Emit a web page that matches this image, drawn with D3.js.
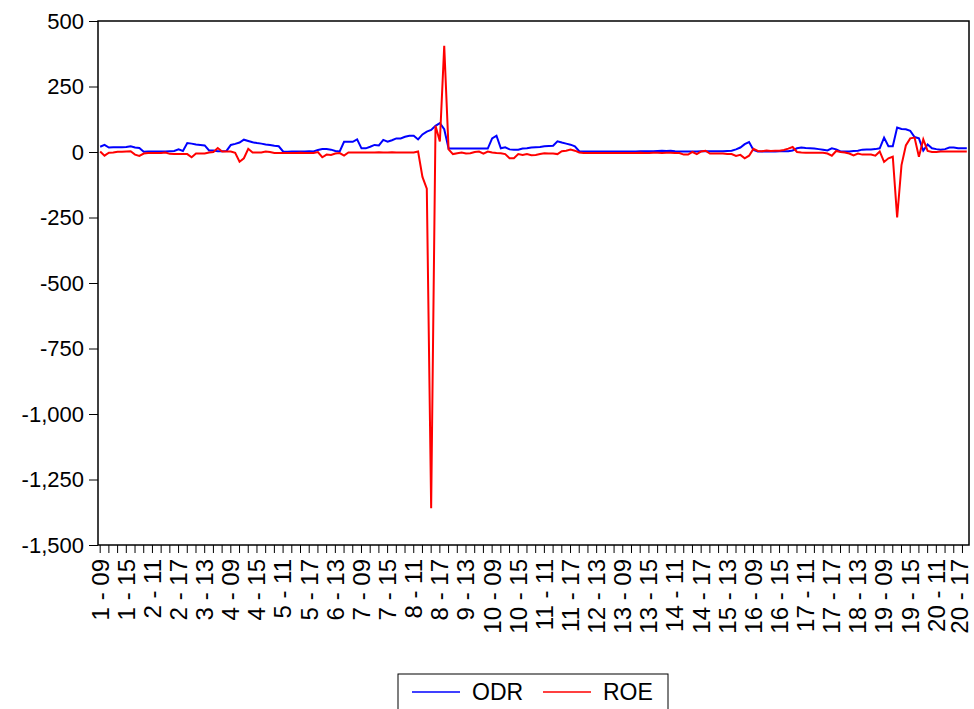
<!DOCTYPE html>
<html>
<head>
<meta charset="utf-8">
<script src="https://cdn.jsdelivr.net/npm/d3@7"></script>
<style>
  body { margin: 0; background: #fff; }
  text { font-family: "Liberation Sans", Arial, sans-serif; fill: #000; }
</style>
</head>
<body>
<div id="chart"></div>
<script>
const svgWidth = 974;
const svgHeight = 709;

const margin = { top: 21, right: 5, bottom: 164, left: 98 };
const width = svgWidth - margin.left - margin.right;
const height = svgHeight - margin.top - margin.bottom;

// panel: 20 cross sections x years 2009-2018
const ids = d3.range(1, 21);
const years = ['09', '10', '11', '12', '13', '14', '15', '16', '17', '18'];

const odr = [
    20, 27, 17, 18, 18, 18, 19, 22, 17, 15,
    1, 2, 2, 2, 2, 2, 3, 4, 10, 4,
    34, 32, 29, 27, 25, 6, 6, 3, 3, 4,
    27, 31, 36, 47, 42, 37, 34, 32, 29, 27,
    24, 22, 2, 1, 2, 2, 2, 2, 3, 2,
    8, 11, 11, 9, 4, 2, 39, 39, 39, 48,
    14, 14, 20, 27, 25, 46, 39, 45, 52, 52,
    58, 62, 62, 48, 67, 78, 84, 100, 110, 87,
    13, 13, 13, 13, 13, 13, 13, 13, 13, 13,
    52, 62, 14, 18, 10, 9, 9, 13, 14, 17,
    18, 19, 22, 23, 24, 41, 36, 32, 28, 22,
    3, 2, 2, 2, 2, 2, 2, 2, 2, 2,
    2, 2, 2, 2, 3, 3, 3, 3, 4, 5,
    4, 5, 3, 2, 2, 2, 2, 2, 3, 3,
    3, 3, 3, 3, 4, 5, 10, 17, 30, 38,
    8, 2, 2, 2, 2, 2, 3, 3, 3, 6,
    14, 17, 15, 14, 13, 11, 9, 6, 14, 10,
    2, 2, 2, 4, 5, 9, 10, 10, 11, 14,
    55, 22, 22, 93, 88, 87, 81, 57, 52, 5,
    29, 14, 11, 9, 11, 17, 17, 14, 14, 14
];

const roe = [
    2, -14, -3, -2, 1, 1, 2, 3, -10, -15,
    -6, -4, -4, -4, -4, -2, -7, -8, -8, -8,
    -8, -20, -6, -6, -6, -2, 0, 15, 2, 2,
    2, -3, -37, -24, 12, -2, -2, -2, 2, 0,
    -4, -4, -4, -4, -4, -4, -3, -4, -4, -4,
    0, -20, -10, -11, -6, -4, -14, -2, -2, -2,
    -2, -2, -2, -2, -1, -2, -2, -1, -2, -2,
    -2, -2, -2, 2, -95, -140, -1360, 100, 40, 405,
    10, -8, -5, -2, -6, -5, 0, 2, -6, 2,
    -2, -4, -5, -8, -24, -24, -8, -11, -8, -12,
    -11, -8, -5, -6, -6, -8, 3, 5, 9, 5,
    -2, -4, -4, -4, -4, -4, -4, -4, -4, -4,
    -4, -4, -4, -4, -3, -4, -4, -3, -3, -4,
    -3, -3, -4, -4, -10, -10, 0, -8, 2, 5,
    -6, -6, -6, -6, -8, -8, -15, -11, -24, -14,
    12, 4, 3, 6, 4, 5, 5, 8, 13, 19,
    0, -2, -3, -3, -3, -3, -3, -6, -14, 4,
    0, -2, -6, -13, -6, -10, -10, -10, -14, 2,
    -38, -24, -18, -250, -50, 25, 52, 55, -18, 48,
    4, 0, 0, 2, 2, 2, 2, 2, 2, 2
];

const yTicks = [-1500, -1250, -1000, -750, -500, -250, 0, 250, 500];

// observation labels like "1 - 09"
const obs = [];
ids.forEach(id => years.forEach(yr => obs.push(`${id} - ${yr}`)));

const svg = d3.select('#chart')
    .append('svg')
    .attr('width', svgWidth)
    .attr('height', svgHeight);

const chartGroup = svg.append('g')
    .attr('transform', `translate(${margin.left}, ${margin.top})`);

const xScale = d3.scaleBand()
    .domain(obs)
    .range([0, width]);

const yScale = d3.scaleLinear()
    .domain([-1500, 500])
    .range([height, 0]);

const fmt = d3.formatLocale({ decimal: '.', thousands: ',', grouping: [3], currency: ['', ''], minus: '-' }).format(',');

// x axis: tick every 2nd obs, label every 6th
const bottomAxis = d3.axisBottom(xScale)
    .tickValues(obs.filter((d, i) => i % 2 === 0))
    .tickFormat(d => obs.indexOf(d) % 6 === 0 ? d : '')
    .tickSize(8)
    .tickSizeOuter(0);

const xAxis = chartGroup.append('g')
    .attr('transform', `translate(0, ${height})`)
    .call(bottomAxis);
xAxis.select('.domain').remove();
xAxis.selectAll('line').attr('stroke', '#000');
const lastLabel = obs[obs.length - 2];
xAxis.selectAll('text')
    .attr('font-size', '24px')
    .attr('text-anchor', 'end')
    // nudge the very last label so it stays inside the page
    .attr('transform', d => d === lastLabel ? 'translate(-3, 14) rotate(-90)' : 'translate(0, 14) rotate(-90)')
    .attr('x', 0)
    .attr('y', 0)
    .attr('dy', '0.35em');

const leftAxis = d3.axisLeft(yScale)
    .tickValues(yTicks)
    .tickFormat(fmt)
    .tickSize(9)
    .tickPadding(5)
    .tickSizeOuter(0);

const yAxis = chartGroup.append('g').call(leftAxis);
yAxis.select('.domain').remove();
yAxis.selectAll('line').attr('stroke', '#000');
yAxis.selectAll('text').attr('font-size', '22px');

// series lines
const line = values => d3.line()
    .x((d, i) => xScale(obs[i]) + xScale.bandwidth() / 2)
    .y(d => yScale(d))(values);

chartGroup.append('path')
    .attr('d', line(odr))
    .attr('fill', 'none')
    .attr('stroke', '#0000ff')
    .attr('stroke-width', 2);

chartGroup.append('path')
    .attr('d', line(roe))
    .attr('fill', 'none')
    .attr('stroke', '#ff0000')
    .attr('stroke-width', 2);

// frame
chartGroup.append('rect')
    .attr('x', 0)
    .attr('y', 0)
    .attr('width', width)
    .attr('height', height)
    .attr('fill', 'none')
    .attr('stroke', '#000')
    .attr('stroke-width', 1.5);

// legend
const legend = svg.append('g').attr('transform', 'translate(398, 674)');
legend.append('rect')
    .attr('width', 270)
    .attr('height', 45)
    .attr('fill', '#fff')
    .attr('stroke', '#000');

const items = [{ name: 'ODR', color: '#0000ff' }, { name: 'ROE', color: '#ff0000' }];
items.forEach((it, k) => {
    const gx = 14 + k * 131;
    legend.append('line')
        .attr('x1', gx).attr('x2', gx + 48)
        .attr('y1', 18).attr('y2', 18)
        .attr('stroke', it.color)
        .attr('stroke-width', 1.5);
    legend.append('text')
        .attr('x', gx + 60)
        .attr('y', 18)
        .attr('dy', '0.36em')
        .attr('font-size', '23px')
        .text(it.name);
});
</script>
</body>
</html>
